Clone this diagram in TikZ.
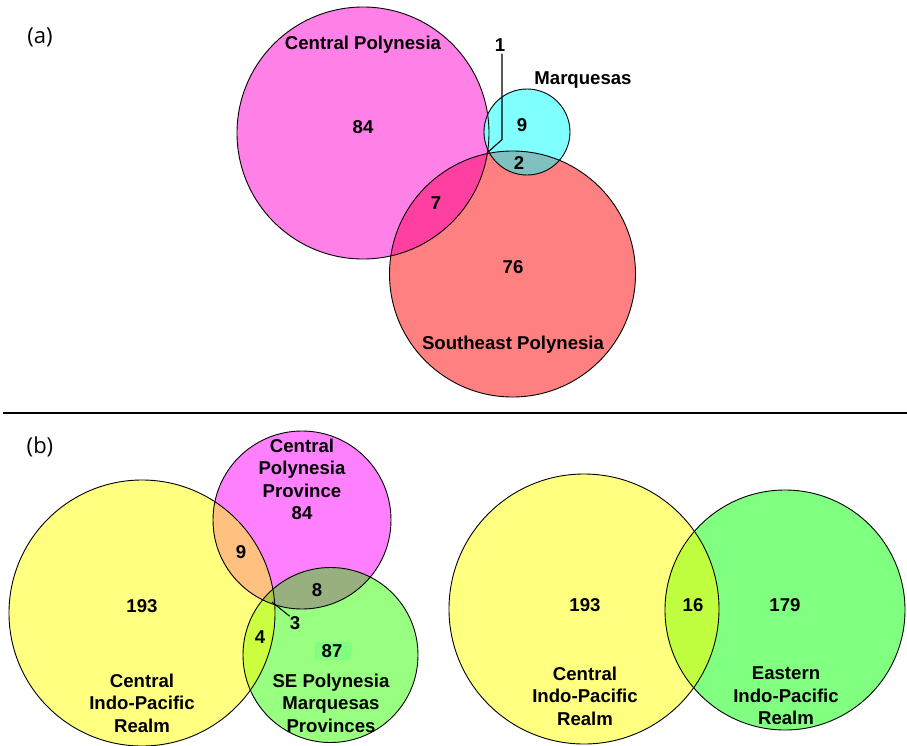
\documentclass[tikz,border=0pt]{standalone}
\usepackage{fontspec}
\setmainfont{Liberation Sans}
\newfontfamily\panelfont{Open Sans}
\usetikzlibrary{positioning}
% colours of the sets and of their overlaps
\definecolor{cpink}{RGB}{255,128,230}
\definecolor{ccyan}{RGB}{128,255,255}
\definecolor{cred}{RGB}{255,128,128}
\definecolor{cpinkred}{RGB}{255,64,160}
\definecolor{ccyanred}{RGB}{128,192,192}
\definecolor{ctripa}{RGB}{176,96,200}
\definecolor{cyel}{RGB}{255,255,128}
\definecolor{cmag}{RGB}{255,128,255}
\definecolor{cgrn}{RGB}{153,255,128}
\definecolor{cgrnb}{RGB}{128,255,128}
\definecolor{cyelmag}{RGB}{255,192,128}
\definecolor{cmaggrn}{RGB}{152,176,128}
\definecolor{cyelgrn}{RGB}{204,255,64}
\definecolor{cyelgrnb}{RGB}{192,255,64}
\definecolor{ctripb}{RGB}{176,200,64}
% circles (a)
\def\cpolA{(363,-133) circle (126pt)}
\def\marqA{(527,-132) circle (43pt)}
\def\sepolA{(512.5,-274) circle (123pt)}
% circles (b), left
\def\cipB{(142,-613) circle (133pt)}
\def\cpolB{(302,-520) circle (89pt)}
\def\sepmB{(330.5,-655) circle (87.5pt)}
% circles (b), right
\def\cipC{(584,-609) circle (135pt)}
\def\eipC{(785,-610) circle (120pt)}
\tikzstyle{setlabel} = [font=\bfseries\fontsize{18.6}{22.5}\selectfont, align=center, inner sep=0pt]
\tikzstyle{panel} = [font=\panelfont\fontsize{22}{25}\selectfont, inner sep=0pt]
\tikzstyle{ring} = [draw=black, line width=0.9pt]
\tikzstyle{leader} = [draw=black, line width=1.1pt]
\begin{document}
\begin{tikzpicture}[x=1pt,y=1pt]
\useasboundingbox (0,0) rectangle (907,-745);
\fill[white] (0,0) rectangle (907,-745);

% ---- panel (a)
\fill[cpink] \cpolA;
\fill[ccyan] \marqA;
\fill[cred] \sepolA;
\begin{scope}
  \clip \cpolA;
  \fill[cpinkred] \sepolA;
\end{scope}
\begin{scope}
  \clip \marqA;
  \fill[ccyanred] \sepolA;
\end{scope}
\begin{scope}
  \clip \cpolA; \clip \marqA;
  \fill[ctripa] \sepolA;
\end{scope}
\draw[ring] \cpolA;
\draw[ring] \marqA;
\draw[ring] \sepolA;

\node[panel] (pa) at (40,-37) {(a)};
\node[setlabel] (cpname) at (363,-45) {Central Polynesia};
\node[setlabel] (cponly) at (363,-127) {84};
\node[setlabel] (mqname) at (583,-80) {Marquesas};
\node[setlabel] (mqonly) at (522,-125) {9};
\node[setlabel] (mqsep) at (519,-163) {2};
\node[setlabel] (cpsep) at (436,-203) {7};
\node[setlabel] (seponly) at (513,-267) {76};
\node[setlabel] (sepname) at (513,-345) {Southeast Polynesia};
\node[setlabel] (one) at (500,-45) {1};
\coordinate (tria) at (487,-153);
\draw[leader] (one.south) ++(2,-2) -- ++(0,-86) -- (tria);

% ---- separator
\draw[line width=2.5pt] (3,-413) -- (907,-413);

% ---- panel (b), three sets
\fill[cyel] \cipB;
\fill[cmag] \cpolB;
\fill[cgrn] \sepmB;
\begin{scope}
  \clip \cipB;
  \fill[cyelmag] \cpolB;
  \fill[cyelgrn] \sepmB;
\end{scope}
\begin{scope}
  \clip \cpolB;
  \fill[cmaggrn] \sepmB;
\end{scope}
\begin{scope}
  \clip \cipB; \clip \cpolB;
  \fill[ctripb] \sepmB;
\end{scope}
\fill[cgrnb] (315,-642) rectangle (351,-660);
\draw[ring] \cipB;
\draw[ring] \cpolB;
\draw[ring] \sepmB;

\node[panel] (pb) at (40,-447) {(b)};
\node[setlabel] (cpbname) at (302,-468) {Central\\Polynesia\\Province};
\node[setlabel] (cpbonly) at (302,-513) {84};
\node[setlabel] (cipbonly) at (142,-606) {193};
\node[setlabel] (cipbname) at (142,-703) {Central\\Indo-Pacific\\Realm};
\node[setlabel] (cipcp) at (241,-552) {9};
\node[setlabel] (cpsepm) at (317,-590) {8};
\node[setlabel] (cipsepm) at (260,-637) {4};
\node[setlabel] (sepmonly) at (332,-651) {87};
\node[setlabel] (sepmname) at (331,-703) {SE Polynesia\\Marquesas\\Provinces};
\node[setlabel] (three) at (295,-623) {3};
\coordinate (trib) at (272,-602);
\draw[leader] (three.north west) -- (trib);

% ---- panel (b), two realms
\fill[cyel] \cipC;
\fill[cgrnb] \eipC;
\begin{scope}
  \clip \cipC;
  \fill[cyelgrnb] \eipC;
\end{scope}
\draw[ring] \cipC;
\draw[ring] \eipC;

\node[setlabel] (cipconly) at (585,-605) {193};
\node[setlabel] (both) at (693,-605) {16};
\node[setlabel] (eiponly) at (785,-605) {179};
\node[setlabel] (cipcname) at (585,-696) {Central\\Indo-Pacific\\Realm};
\node[setlabel] (eipname) at (786,-696) {Eastern\\Indo-Pacific\\Realm};
\end{tikzpicture}
\end{document}
